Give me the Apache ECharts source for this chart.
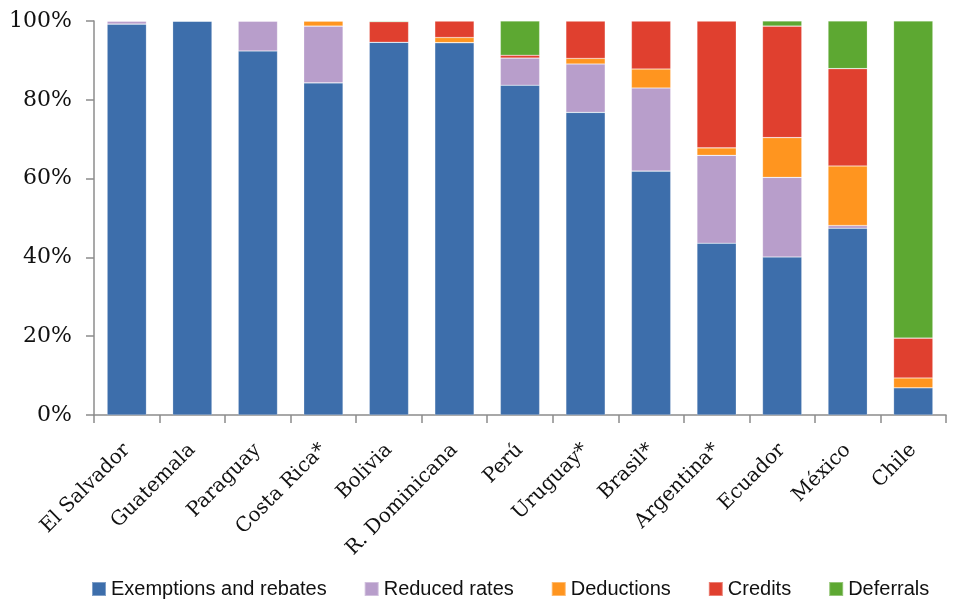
<!DOCTYPE html>
<html><head><meta charset="utf-8">
<script src="https://cdn.jsdelivr.net/npm/echarts@6/dist/echarts.min.js"></script>
<style>html,body{margin:0;padding:0;background:#fff}#c{width:972px;height:608px}</style>
</head><body><div id="c"></div>
<script>
const categories = ['El Salvador','Guatemala','Paraguay','Costa Rica*','Bolivia','R. Dominicana','Perú','Uruguay*','Brasil*','Argentina*','Ecuador','México','Chile'];
const exemptions = [99.2,100,92.4,84.3,94.6,94.5,83.7,76.8,61.9,43.6,40.1,47.4,6.9];
const reduced    = [0.8,0,7.6,14.4,0,0,6.9,12.3,21.1,22.3,20.2,0.7,0];
const deductions = [0,0,0,1.3,0,1.3,0,1.4,4.8,1.9,10.1,15.1,2.5];
const credits    = [0,0,0,0,5.2,4.2,0.7,9.5,12.2,32.2,28.3,24.7,10.1];
const deferrals  = [0,0,0,0,0.2,0,8.7,0,0,0,1.3,12.1,80.5];
const yTicks = [0,20,40,60,80,100];

const names = ['Exemptions and rebates','Reduced rates','Deductions','Credits','Deferrals'];
const colors = ['#3D6EAB','#B89ECB','#FF951F','#E0402F','#5DA832'];
const data = [exemptions,reduced,deductions,credits,deferrals];

const chart = echarts.init(document.getElementById('c'));
chart.setOption({
  animation:false,
  grid:{left:94,right:26,top:21,bottom:193,containLabel:false},
  legend:{
    bottom:4,left:86,itemWidth:14,itemHeight:14,itemGap:37,icon:'rect',
    textStyle:{fontFamily:'Liberation Sans, Arial, sans-serif',fontSize:20,color:'#111'},
    data:names
  },
  xAxis:{
    type:'category',data:categories,
    axisLine:{lineStyle:{color:'#8c8c8c',width:1.5}},
    axisTick:{show:true,alignWithLabel:false,length:8,lineStyle:{color:'#8c8c8c',width:1.5}},
    axisLabel:{rotate:45,interval:0,margin:32,fontFamily:'DejaVu Serif, serif',fontSize:20,color:'#111'}
  },
  yAxis:{
    type:'value',min:0,max:100,interval:20,
    axisLine:{show:true,lineStyle:{color:'#8c8c8c',width:1.5}},
    axisTick:{show:true,length:8,lineStyle:{color:'#8c8c8c',width:1.5}},
    splitLine:{show:false},
    axisLabel:{formatter:v=>yTicks.includes(v)?v+'%':'',margin:22,fontFamily:'DejaVu Serif, serif',fontSize:22,color:'#111'}
  },
  series:names.map((n,i)=>({
    name:n,type:'bar',stack:'total',barWidth:'60%',
    itemStyle:{color:colors[i],borderColor:'rgba(255,255,255,0.35)',borderWidth:0.6},
    data:data[i]
  }))
});
</script></body></html>
